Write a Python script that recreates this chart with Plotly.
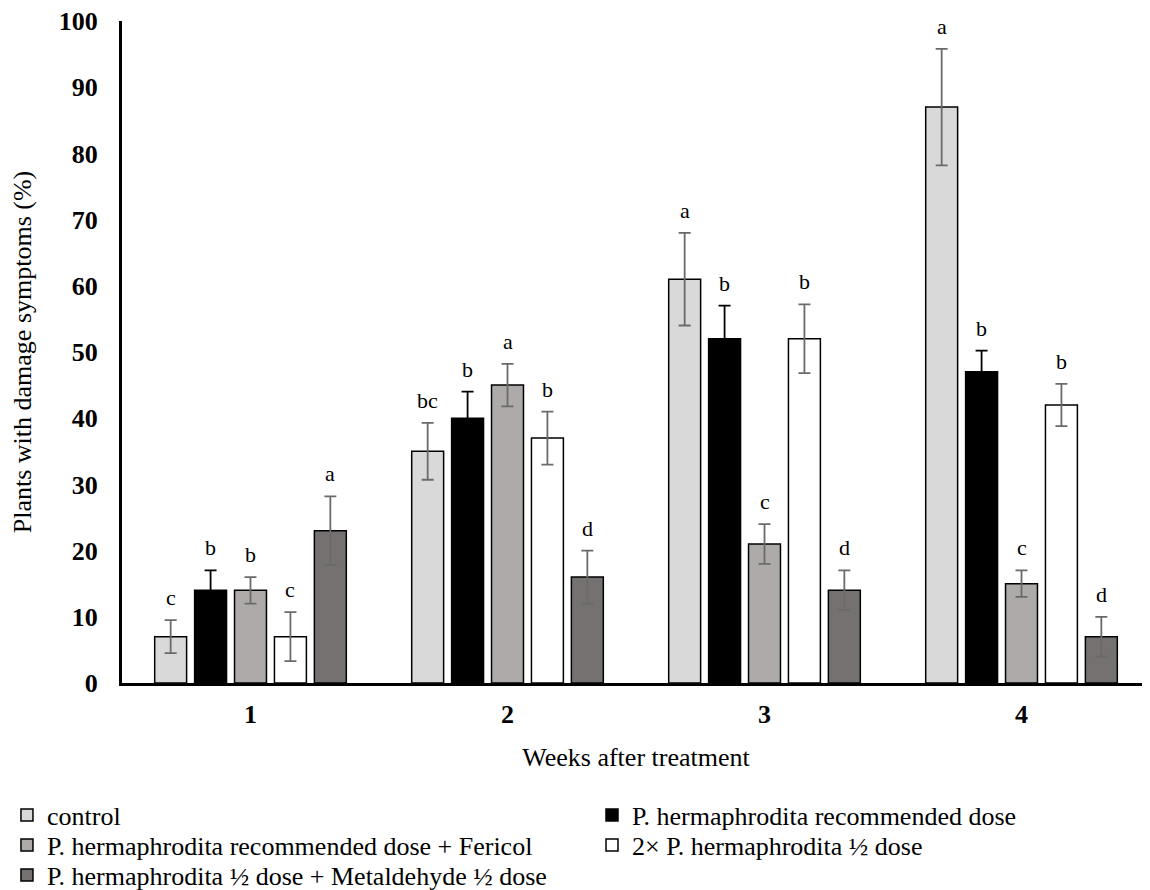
import plotly.graph_objects as go

weeks = [1, 2, 3, 4]
week_labels = ["1", "2", "3", "4"]
series_names = [
    "control",
    "P. hermaphrodita recommended dose",
    "P. hermaphrodita recommended dose + Fericol",
    "2× P. hermaphrodita ½ dose",
    "P. hermaphrodita ½ dose + Metaldehyde ½ dose",
]
control = [7, 35, 61, 87]
ph_rec = [14, 40, 52, 47]
ph_fericol = [14, 45, 21, 15]
ph_2x_half = [7, 37, 52, 42]
ph_half_metal = [23, 16, 14, 7]

control_err = [2.5, 4.3, 7.0, 8.8]
ph_rec_err = [3.0, 4.0, 5.0, 3.2]
ph_fericol_err = [2.0, 3.2, 3.0, 2.0]
ph_2x_half_err = [3.7, 4.0, 5.2, 3.2]
ph_half_metal_err = [5.2, 4.0, 3.0, 3.0]

control_let = ["c", "bc", "a", "a"]
ph_rec_let = ["b", "b", "b", "b"]
ph_fericol_let = ["b", "a", "c", "c"]
ph_2x_half_let = ["c", "b", "b", "b"]
ph_half_metal_let = ["a", "d", "d", "d"]

values = [control, ph_rec, ph_fericol, ph_2x_half, ph_half_metal]
errors = [control_err, ph_rec_err, ph_fericol_err, ph_2x_half_err, ph_half_metal_err]
letters = [control_let, ph_rec_let, ph_fericol_let, ph_2x_half_let, ph_half_metal_let]
colors = ["#d9d9d9", "#000000", "#aeaaaa", "#ffffff", "#767171"]
err_colors = ["#6a6a6a", "#000000", "#6a6a6a", "#6a6a6a", "#6a6a6a"]

# one legend per entry, laid out as two columns x three rows
legend_ids = ["legend", "legend2", "legend3", "legend4", "legend5"]
legend_col = [0, 1, 0, 1, 0]
legend_row = [0, 0, 1, 1, 2]

slot = 40 / 257.5
bar_w = 32 / 257.5
FONT = "Times New Roman, Liberation Serif, serif"

fig = go.Figure()
annotations = []
for j in range(5):
    xs = [w + (j - 2) * slot for w in weeks]
    fig.add_trace(go.Bar(
        x=xs, y=values[j], width=bar_w, name=series_names[j],
        legend=legend_ids[j],
        marker=dict(color=colors[j], line=dict(color="#000000", width=1.5)),
        error_y=dict(type="data", array=errors[j], visible=True,
                     color=err_colors[j], thickness=1.8, width=6),
    ))
    for i in range(4):
        annotations.append(dict(
            x=xs[i], y=values[j][i] + errors[j][i], text=letters[j][i],
            showarrow=False, xref="x", yref="y", yanchor="bottom", yshift=8,
            font=dict(family=FONT, size=22, color="#000000"),
        ))

FIG_W, FIG_H = 1142, 882
col_x = [-0.1119, 0.4572]
row_y_px = [807, 837, 867]  # centre of each legend row, in figure pixels

legends = {}
for j in range(5):
    legends[legend_ids[j]] = dict(
        orientation="v", xanchor="left", yanchor="middle",
        x=col_x[legend_col[j]], xref="paper",
        y=1 - row_y_px[legend_row[j]] / FIG_H, yref="container",
        font=dict(family=FONT, size=26, color="#000000"),
        itemwidth=30, bgcolor="rgba(0,0,0,0)",
    )

fig.update_layout(
    width=FIG_W, height=FIG_H,
    margin=dict(l=114, r=0, t=13, b=207, autoexpand=False),
    paper_bgcolor="white", plot_bgcolor="white",
    font=dict(family=FONT, color="#000000"),
    showlegend=True,
    barmode="overlay",
    annotations=annotations,
    **legends,
)
fig.update_xaxes(
    range=[0.5, 4.5], tickmode="array", tickvals=weeks, ticktext=week_labels,
    showline=True, linecolor="#000000", linewidth=3, showgrid=False, zeroline=False,
    ticks="", tickfont=dict(family=FONT, size=26, color="#000000", weight="bold"),
    ticklabelstandoff=6, automargin=False,
    title=dict(text="Weeks after treatment", font=dict(family=FONT, size=26), standoff=20),
)
fig.update_yaxes(
    range=[0, 100], tickmode="linear", tick0=0, dtick=10,
    showline=True, linecolor="#000000", linewidth=3, showgrid=False, zeroline=False,
    ticks="", tickfont=dict(family=FONT, size=26, color="#000000", weight="bold"),
    ticklabelstandoff=16, automargin=False, ticklabeloverflow="allow",
    title=dict(text="Plants with damage symptoms (%)", font=dict(family=FONT, size=26), standoff=22),
)
fig.write_html("out.html")
